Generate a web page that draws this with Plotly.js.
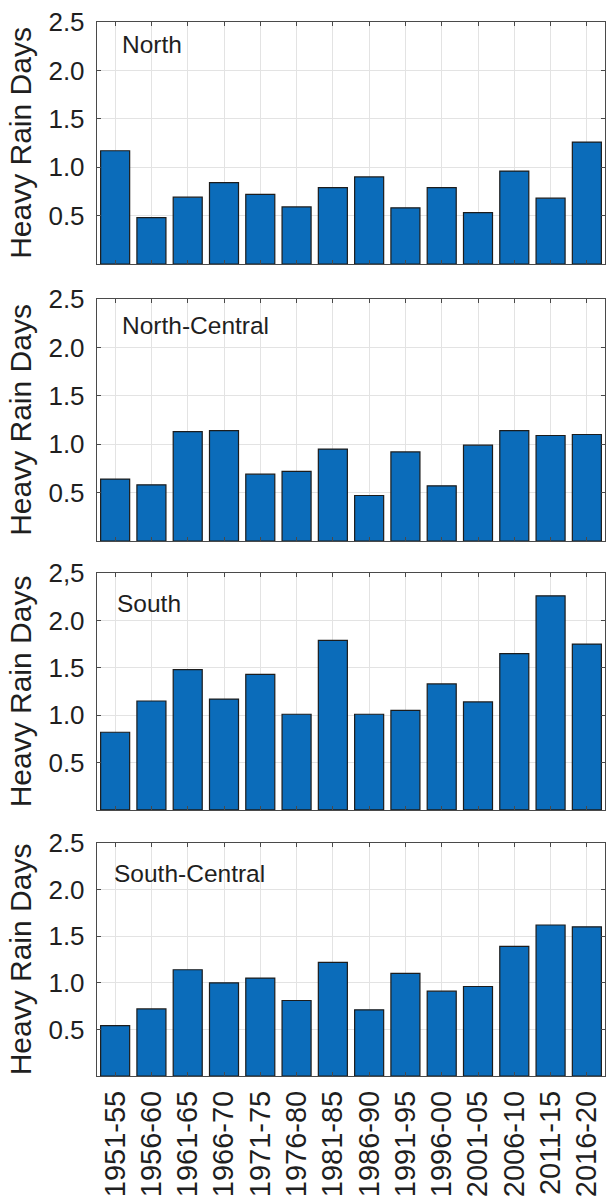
<!DOCTYPE html>
<html>
<head>
<meta charset="utf-8">
<script src="https://cdn.plot.ly/plotly-3.0.1.min.js"></script>
<style>
  html, body { margin: 0; padding: 0; background: #fff; }
  #chart { width: 608px; height: 1201px; }
</style>
</head>
<body>
<div id="chart"></div>
<script>
// Five-year periods on the shared x axis
const categories = ['1951-55', '1956-60', '1961-65', '1966-70', '1971-75', '1976-80', '1981-85',
                    '1986-90', '1991-95', '1996-00', '2001-05', '2006-10', '2011-15', '2016-20'];

// Mean heavy rain days per region and period
const north        = [1.17, 0.48, 0.69, 0.84, 0.72, 0.59, 0.79, 0.90, 0.58, 0.79, 0.53, 0.96, 0.68, 1.26];
const northCentral = [0.64, 0.58, 1.13, 1.14, 0.69, 0.72, 0.95, 0.47, 0.92, 0.57, 0.99, 1.14, 1.09, 1.10];
const south        = [0.82, 1.15, 1.48, 1.17, 1.43, 1.01, 1.79, 1.01, 1.05, 1.33, 1.14, 1.65, 2.26, 1.75];
const southCentral = [0.54, 0.72, 1.14, 1.00, 1.05, 0.81, 1.22, 0.71, 1.10, 0.91, 0.96, 1.39, 1.62, 1.60];

const regionNames = ['North', 'North-Central', 'South', 'South-Central'];
const regionValues = [north, northCentral, south, southCentral];

// Y tick labels (the South panel prints its top label with a decimal comma)
const yTickVals = [0.5, 1.0, 1.5, 2.0, 2.5];
const yTickText = ['0.5', '1.0', '1.5', '2.0', '2.5'];
const yTickTextSouth = ['0.5', '1.0', '1.5', '2.0', '2,5'];
const yTitle = 'Heavy Rain Days';

// ---- layout geometry ----
const FONT = 'Liberation Sans, Arial, Helvetica, sans-serif';
const INK = '#1f1f1f';
const BOX = '#4a4a4a';
const GRID = '#e3e3e3';
const BAR = '#0B6CBA';

const panelDomains = [
  [0.7704, 1.0],
  [0.5076, 0.7372],
  [0.2524, 0.4772],
  [0.0, 0.2211]
];
const labelPos = [
  {x: 0.045, y: 0.905},
  {x: 0.045, y: 0.890},
  {x: 0.035, y: 0.872},
  {x: 0.029, y: 0.870}
];

const traces = [];
const layout = {
  width: 608,
  height: 1201,
  margin: {l: 97, r: 3, t: 22, b: 125},
  paper_bgcolor: '#ffffff',
  plot_bgcolor: '#ffffff',
  showlegend: false,
  bargap: 0.2,
  font: {family: FONT, color: INK, size: 26},
  annotations: []
};

regionValues.forEach((vals, i) => {
  const n = i + 1;
  const xa = n === 1 ? 'x' : 'x' + n;
  const ya = n === 1 ? 'y' : 'y' + n;
  traces.push({
    type: 'bar',
    x: categories,
    y: vals,
    xaxis: xa,
    yaxis: ya,
    width: 0.8,
    marker: {color: BAR, line: {color: '#1c1c1c', width: 1.2}},
    hoverinfo: 'x+y'
  });

  const isBottom = n === 4;
  layout['xaxis' + (n === 1 ? '' : n)] = {
    type: 'category',
    anchor: ya,
    domain: [0, 1],
    range: [-0.5, categories.length - 0.5],
    showgrid: true,
    gridcolor: GRID,
    gridwidth: 1,
    showline: true,
    linecolor: BOX,
    linewidth: 1.2,
    mirror: 'ticks',
    ticks: 'inside',
    ticklen: 4,
    tickwidth: 1,
    tickcolor: BOX,
    showticklabels: isBottom,
    tickangle: -90,
    tickfont: {family: FONT, size: 29, color: INK},
    ticklabelstandoff: 2,
    zeroline: false,
    fixedrange: true
  };
  if (n > 1) layout['xaxis' + n].matches = 'x';

  layout['yaxis' + (n === 1 ? '' : n)] = {
    anchor: xa,
    domain: panelDomains[i],
    range: [0, 2.5],
    tickmode: 'array',
    tickvals: yTickVals,
    ticktext: i === 2 ? yTickTextSouth : yTickText,
    showgrid: true,
    gridcolor: GRID,
    gridwidth: 1,
    showline: true,
    linecolor: BOX,
    linewidth: 1.2,
    mirror: 'ticks',
    ticks: 'inside',
    ticklen: 4,
    tickwidth: 1,
    tickcolor: BOX,
    tickfont: {family: FONT, size: 26, color: INK},
    ticklabelstandoff: 6,
    zeroline: false,
    fixedrange: true,
    title: {text: yTitle, font: {family: FONT, size: 30, color: INK}, standoff: 8}
  };

  layout.annotations.push({
    text: regionNames[i],
    xref: xa + ' domain',
    yref: ya + ' domain',
    x: labelPos[i].x,
    y: labelPos[i].y,
    xanchor: 'left',
    yanchor: 'middle',
    showarrow: false,
    font: {family: FONT, size: 24.5, color: INK}
  });
});

Plotly.newPlot('chart', traces, layout, {displayModeBar: false, staticPlot: true});
</script>
</body>
</html>
